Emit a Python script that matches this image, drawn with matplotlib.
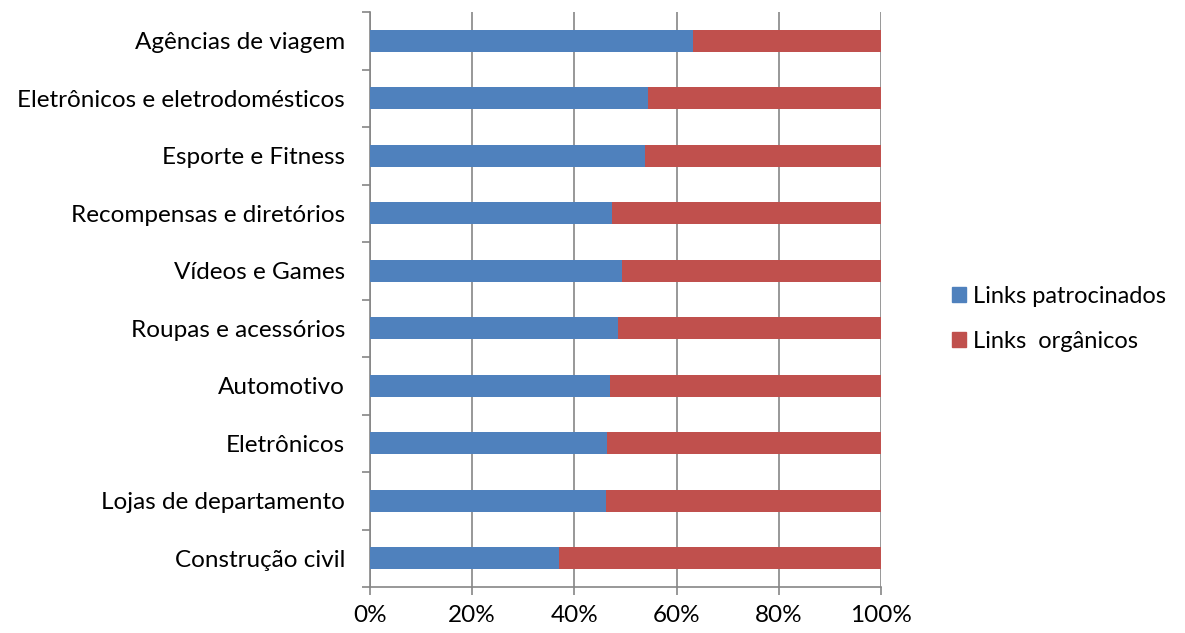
import matplotlib
matplotlib.use("Agg")
import matplotlib.pyplot as plt
from matplotlib.patches import Patch
from matplotlib.ticker import FuncFormatter, FixedLocator

categories = ["Agências de viagem", "Eletrônicos e eletrodomésticos", "Esporte e Fitness",
              "Recompensas e diretórios", "Vídeos e Games", "Roupas e acessórios",
              "Automotivo", "Eletrônicos", "Lojas de departamento", "Construção civil"]
patrocinados = [63.3, 54.5, 53.8, 47.3, 49.3, 48.5, 46.9, 46.3, 46.1, 36.9]
organicos = [100 - v for v in patrocinados]

blue = "#4F81BD"
red = "#C0504D"
grey = "#868686"

plt.rcParams['font.family'] = ['Lato', 'DejaVu Sans']

fig = plt.figure(figsize=(11.85, 6.33), dpi=100)
ax = fig.add_axes([370 / 1185, 1 - 587 / 633, 511 / 1185, 575 / 633])

y = list(range(len(categories)))[::-1]
ax.barh(y, patrocinados, height=0.39, color=blue, zorder=3)
ax.barh(y, organicos, left=patrocinados, height=0.39, color=red, zorder=3)

ax.set_xlim(0, 100)
ax.set_ylim(-0.5, len(categories) - 0.5)
ax.set_xticks([0, 20, 40, 60, 80, 100])
ax.xaxis.set_major_formatter(FuncFormatter(lambda v, p: f"{int(v)}%"))
ax.set_yticks(y)
ax.set_yticklabels(categories)
ax.yaxis.set_minor_locator(FixedLocator([i - 0.5 for i in range(len(categories) + 1)]))

ax.grid(axis="x", color=grey, linewidth=1.2, zorder=0)
for s in ["top", "right"]:
    ax.spines[s].set_visible(False)
for s in ["left", "bottom"]:
    ax.spines[s].set_color(grey)
    ax.spines[s].set_linewidth(1.2)

ax.tick_params(axis="y", which="major", length=0, pad=18, labelsize=17.5)
ax.tick_params(axis="y", which="minor", length=6, color=grey, width=1.2)
ax.tick_params(axis="x", length=6, color=grey, width=1.2, pad=7, labelsize=17.5)

handles = [Patch(color=blue, label="Links patrocinados"),
           Patch(color=red, label="Links  orgânicos")]
fig.legend(handles=handles, loc="center left", bbox_to_anchor=(952 / 1185, 1 - 319 / 633),
           frameon=False, fontsize=17, handlelength=0.6, handleheight=0.6,
           handletextpad=0.3, labelspacing=1.0, borderpad=0, borderaxespad=0)

fig.savefig("out.png", dpi=100)
